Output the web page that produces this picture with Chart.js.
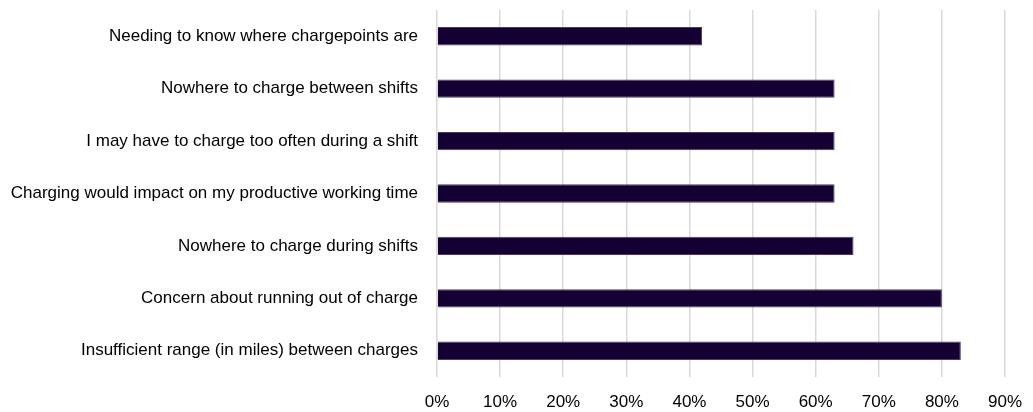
<!DOCTYPE html>
<html>
<head>
<meta charset="utf-8">
<script src="https://cdn.jsdelivr.net/npm/chart.js@4/dist/chart.umd.min.js"></script>
<style>
  html, body { margin: 0; padding: 0; background: #fff; }
  #wrap { width: 1033px; height: 412px; position: relative; }
</style>
</head>
<body>
<div id="wrap"><canvas id="barriersChart"></canvas></div>
<script>
// Barriers to switching, share of respondents
const barrierLabels = [
  'Needing to know where chargepoints are',
  'Nowhere to charge between shifts',
  'I may have to charge too often during a shift',
  'Charging would impact on my productive working time',
  'Nowhere to charge during shifts',
  'Concern about running out of charge',
  'Insufficient range (in miles) between charges'
];
const barrierShares = [42, 63, 63, 63, 66, 80, 83];
const axisTicks = [0, 10, 20, 30, 40, 50, 60, 70, 80, 90];

const fontStack = "'Liberation Sans Narrow', 'Arial Narrow', 'Liberation Sans', Arial, sans-serif";

const ctx = document.getElementById('barriersChart').getContext('2d');

new Chart(ctx, {
  type: 'bar',
  data: {
    labels: barrierLabels,
    datasets: [{
      data: barrierShares,
      backgroundColor: '#150033',
      borderColor: '#4a3d63',
      borderWidth: 1,
      categoryPercentage: 1,
      barPercentage: 0.35
    }]
  },
  options: {
    indexAxis: 'y',
    responsive: true,
    maintainAspectRatio: false,
    animation: false,
    layout: { padding: { top: 10, right: 28, bottom: 0, left: 0 } },
    plugins: {
      legend: { display: false },
      tooltip: { enabled: false }
    },
    scales: {
      x: {
        min: 0,
        max: 90,
        afterBuildTicks: (scale) => {
          scale.ticks = axisTicks.map(v => ({ value: v }));
        },
        afterFit: (scale) => {
          scale.height = 35;
          scale.paddingLeft = 0;
          scale.paddingRight = 0;
        },
        grid: { color: '#d9d9d9', lineWidth: 1.5, drawTicks: false },
        border: { display: false },
        ticks: {
          color: '#000',
          font: { family: fontStack, size: 17 },
          padding: 15,
          callback: (v) => v + '%'
        }
      },
      y: {
        afterFit: (scale) => {
          scale.width = 437;
          scale.paddingTop = 0;
          scale.paddingBottom = 0;
        },
        grid: { display: false, drawTicks: false },
        border: { display: false },
        ticks: {
          color: '#000',
          font: { family: fontStack, size: 17 },
          padding: 19
        }
      }
    }
  }
});
</script>
</body>
</html>
